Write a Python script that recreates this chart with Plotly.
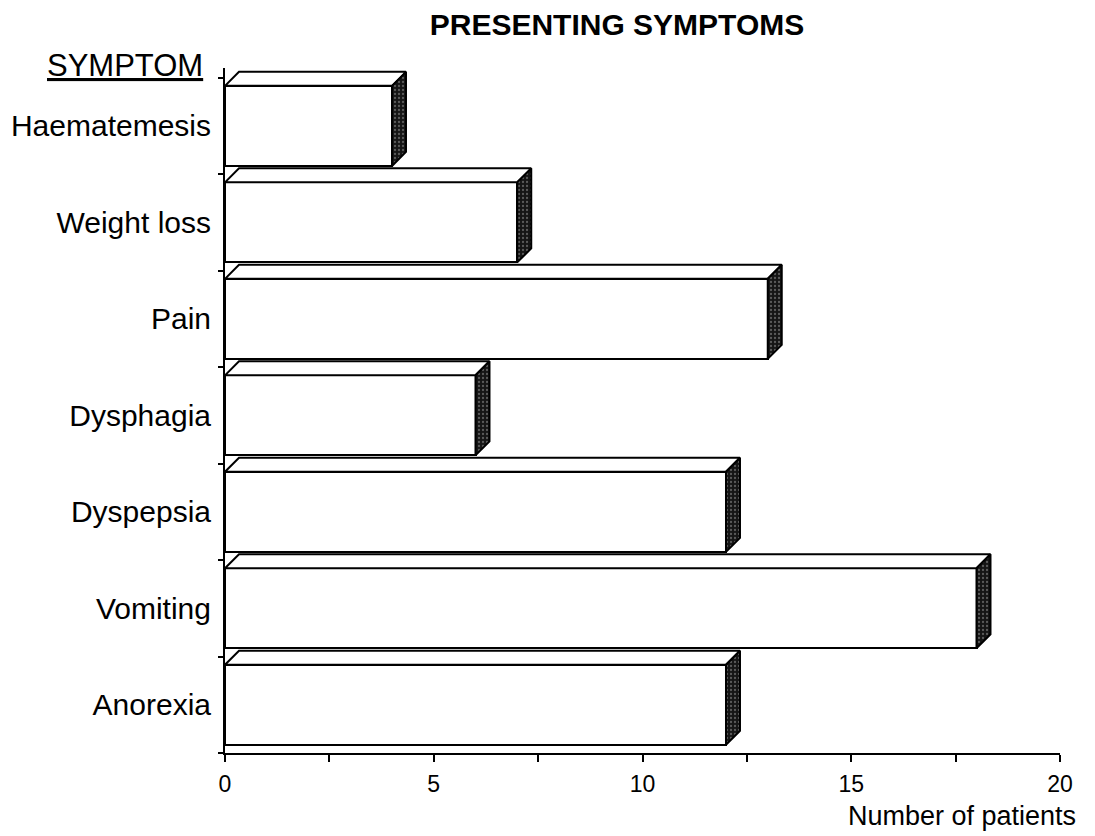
import plotly.graph_objects as go

symptoms = ["Anorexia", "Vomiting", "Dyspepsia", "Dysphagia", "Pain", "Weight loss", "Haematemesis"]
patients = [12, 18, 12, 6, 13, 7, 4]
x_ticks = [0, 5, 10, 15, 20]

pos = list(range(len(symptoms)))
H = 0.415          # half height of front face (category units)
DX = 0.335         # depth offset in x (data units)
DY = 0.145         # depth offset in y (category units)
FONT = "Liberation Sans, Arial, Helvetica, sans-serif"

fig = go.Figure()

# front faces
fig.add_trace(go.Bar(
    x=patients, y=pos, orientation="h", width=2 * H,
    marker=dict(color="white", line=dict(color="black", width=2)),
    hoverinfo="skip", showlegend=False,
))

# top faces and side faces
for c, v in zip(pos, patients):
    fig.add_trace(go.Scatter(
        x=[0, DX, v + DX, v, 0],
        y=[c + H, c + H + DY, c + H + DY, c + H, c + H],
        mode="lines", fill="toself", fillcolor="white",
        line=dict(color="black", width=2), hoverinfo="skip", showlegend=False,
    ))
    fig.add_trace(go.Scatter(
        x=[v, v + DX, v + DX, v, v],
        y=[c + H, c + H + DY, c - H + DY, c - H, c + H],
        mode="lines", fill="toself",
        fillpattern=dict(shape=".", bgcolor="#151515", fgcolor="#a0a0a0", size=4, solidity=0.25),
        line=dict(color="black", width=2), hoverinfo="skip", showlegend=False,
    ))

fig.update_layout(
    width=1095, height=836,
    margin=dict(l=225, r=35, t=68, b=83, autoexpand=False),
    paper_bgcolor="white", plot_bgcolor="white",
    font=dict(family=FONT, color="black"),
    title=dict(text="<b>PRESENTING SYMPTOMS</b>", font=dict(size=30, family=FONT),
               x=(617 - 225) / 835, xref="paper", xanchor="center", y=1 - 24 / 836, yanchor="middle"),
    bargap=0,
)

fig.update_xaxes(
    range=[0, 20], tickvals=x_ticks, ticktext=[str(t) for t in x_ticks],
    ticks="outside", ticklen=7, tickwidth=2, tickcolor="black",
    minor=dict(dtick=2.5, tick0=0, ticks="outside", ticklen=7, tickwidth=2, tickcolor="black", showgrid=False),
    ticklabelstandoff=2,
    showline=True, linecolor="black", linewidth=2, showgrid=False, zeroline=False,
    tickfont=dict(size=23, family=FONT), fixedrange=True, automargin=False,
)

fig.update_yaxes(
    range=[-0.5, 6.6], tickvals=pos, ticktext=symptoms, ticks="",
    minor=dict(tickvals=[p - 0.5 for p in pos] + [6.5], ticks="outside", ticklen=5,
               tickwidth=2, tickcolor="black", showgrid=False),
    ticklabelstandoff=6,
    showline=True, linecolor="black", linewidth=2, showgrid=False, zeroline=False,
    tickfont=dict(size=30, family=FONT), fixedrange=True, automargin=False,
)

fig.add_annotation(text="<u>SYMPTOM</u>", xref="paper", yref="paper",
                   x=-(225 - 205) / 835, y=(753 - 66) / 685, xanchor="right", yanchor="middle",
                   showarrow=False, font=dict(size=31, family=FONT))
fig.add_annotation(text="Number of patients", xref="paper", yref="paper",
                   x=(1078 - 225) / 835, y=-(816 - 753) / 685, xanchor="right", yanchor="middle",
                   showarrow=False, font=dict(size=27, family=FONT))

fig.write_html("out.html")
